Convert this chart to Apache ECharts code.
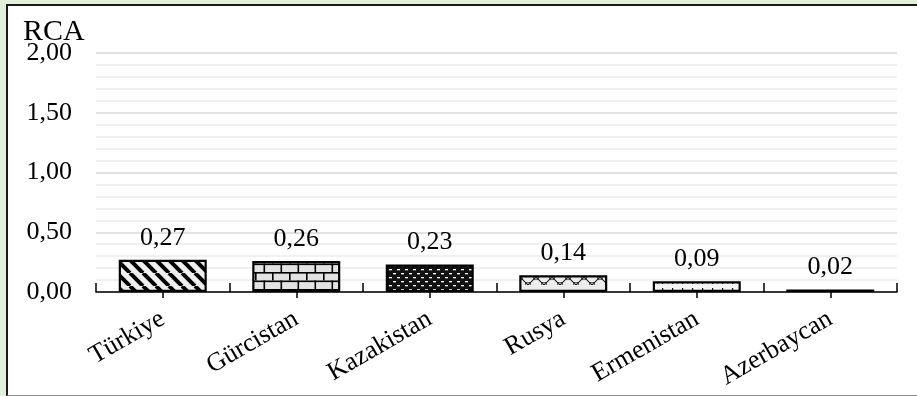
<!DOCTYPE html>
<html>
<head>
<meta charset="utf-8">
<script src="https://cdn.jsdelivr.net/npm/echarts@6/dist/echarts.min.js"></script>
<style>
  html, body { margin: 0; padding: 0; }
  body { width: 917px; height: 396px; background: #e2efda; position: relative; overflow: hidden; }
  #frame {
    position: absolute; left: 6px; top: 4px; width: 911px; height: 392px;
    box-sizing: border-box; background: #fff;
    border-left: 2px solid #1a1a1a; border-top: 2px solid #1a1a1a; border-bottom: 1px solid #8c8c8c;
  }
  #chart { position: absolute; left: 0; top: 0; width: 917px; height: 396px; }
</style>
</head>
<body>
<div id="frame"></div>
<div id="chart"></div>
<script>
// Countries and their RCA values
const categories = ['Türkiye', 'Gürcistan', 'Kazakistan', 'Rusya', 'Ermenistan', 'Azerbaycan'];
const rcaValues = [0.27, 0.26, 0.23, 0.14, 0.09, 0.02];
const yTicks = { min: 0, max: 2, interval: 0.5 };
const axisTitle = 'RCA';

const FONT = "'Liberation Serif', 'Times New Roman', serif";

function tile(w, h, draw) {
  const c = document.createElement('canvas');
  c.width = w; c.height = h;
  const g = c.getContext('2d');
  draw(g, w, h);
  return { image: c, repeat: 'repeat' };
}

// Hatch fills, one per bar
const fills = [
  // wide diagonal stripes
  tile(13, 13, (g, w, h) => {
    g.fillStyle = '#efefef'; g.fillRect(0, 0, w, h);
    g.strokeStyle = '#000'; g.lineWidth = 4;
    for (let k = -1; k <= 1; k++) {
      g.beginPath(); g.moveTo(k * w, 0); g.lineTo(k * w + w, h); g.stroke();
    }
  }),
  // brick
  tile(17, 17, (g, w, h) => {
    g.fillStyle = '#e2e2e2'; g.fillRect(0, 0, w, h);
    g.fillStyle = '#000';
    g.fillRect(0, 0, w, 1.6); g.fillRect(0, 8.5, w, 1.6);
    g.fillRect(0, 0, 1.6, 8.5); g.fillRect(8.5, 8.5, 1.6, 8.5);
  }),
  // dense dark with small white dashes
  tile(8, 8, (g, w, h) => {
    g.fillStyle = '#111'; g.fillRect(0, 0, w, h);
    g.fillStyle = '#fff';
    g.fillRect(1, 1, 3, 1.3); g.fillRect(5, 5, 3, 1.3);
  }),
  // scallop / zigzag
  tile(16, 16, (g, w, h) => {
    g.fillStyle = '#ededed'; g.fillRect(0, 0, w, h);
    g.strokeStyle = '#222'; g.lineWidth = 1;
    g.beginPath(); g.moveTo(0, 13); g.lineTo(8, 5); g.lineTo(16, 13); g.stroke();
    g.beginPath(); g.arc(8, 13, 6, Math.PI, 2 * Math.PI); g.stroke();
    g.beginPath(); g.arc(0, 5, 6, 0, Math.PI); g.stroke();
    g.beginPath(); g.arc(16, 5, 6, 0, Math.PI); g.stroke();
  }),
  // short vertical ticks
  tile(10, 11, (g, w, h) => {
    g.fillStyle = '#f4f4f4'; g.fillRect(0, 0, w, h);
    g.fillStyle = '#111';
    g.fillRect(2, 2, 1.2, 7);
    g.fillRect(7, 7, 1.4, 1.4);
  }),
  // dark thin bar
  tile(8, 4, (g, w, h) => {
    g.fillStyle = '#4a4a4a'; g.fillRect(0, 0, w, h);
    g.fillStyle = '#999'; g.fillRect(0, 1, 4, 1);
  })
];

const barData = rcaValues.map((v, i) => ({
  value: v,
  itemStyle: { color: fills[i] }
}));

const fmt = v => v.toFixed(2).replace('.', ',');

const chart = echarts.init(document.getElementById('chart'), null, { renderer: 'canvas' });
chart.setOption({
  backgroundColor: 'transparent',
  animation: false,
  title: {
    text: axisTitle, left: 18, top: 12,
    textStyle: { fontFamily: FONT, fontSize: 30, fontWeight: 'normal', color: '#000' }
  },
  grid: { left: 96, right: 20, top: 53, bottom: 104, containLabel: false },
  xAxis: [
    {
      type: 'category', data: categories,
      axisLine: { show: true, lineStyle: { color: '#000', width: 1.5 } },
      axisTick: { show: true, inside: true, length: 9, lineStyle: { color: '#000', width: 1.5 } },
      axisLabel: {
        rotate: 30, margin: 25, interval: 0,
        fontFamily: FONT, fontSize: 26, color: '#000'
      },
      splitLine: { show: false }
    },
    {
      type: 'category', data: categories, position: 'bottom',
      axisLine: { show: false },
      axisTick: { show: true, alignWithLabel: true, length: 6, lineStyle: { color: '#000', width: 1.5 } },
      axisLabel: { show: false },
      splitLine: { show: false }
    }
  ],
  yAxis: {
    type: 'value', min: yTicks.min, max: yTicks.max, interval: yTicks.interval,
    axisLine: { show: false }, axisTick: { show: false },
    axisLabel: { formatter: fmt, margin: 24, fontFamily: FONT, fontSize: 26, color: '#000' },
    splitLine: { show: true, lineStyle: { color: '#d9d9d9', width: 1.5 } },
    minorTick: { show: false, splitNumber: 5 },
    minorSplitLine: { show: true, lineStyle: { color: '#ececec', width: 1.5 } }
  },
  series: [{
    type: 'bar', xAxisIndex: 0, data: barData, barWidth: 88,
    itemStyle: { borderColor: '#000', borderWidth: 2.2 },
    label: {
      show: true, position: 'top', distance: 9, formatter: p => fmt(p.value),
      fontFamily: FONT, fontSize: 26, color: '#000'
    }
  }]
});
</script>
</body>
</html>
